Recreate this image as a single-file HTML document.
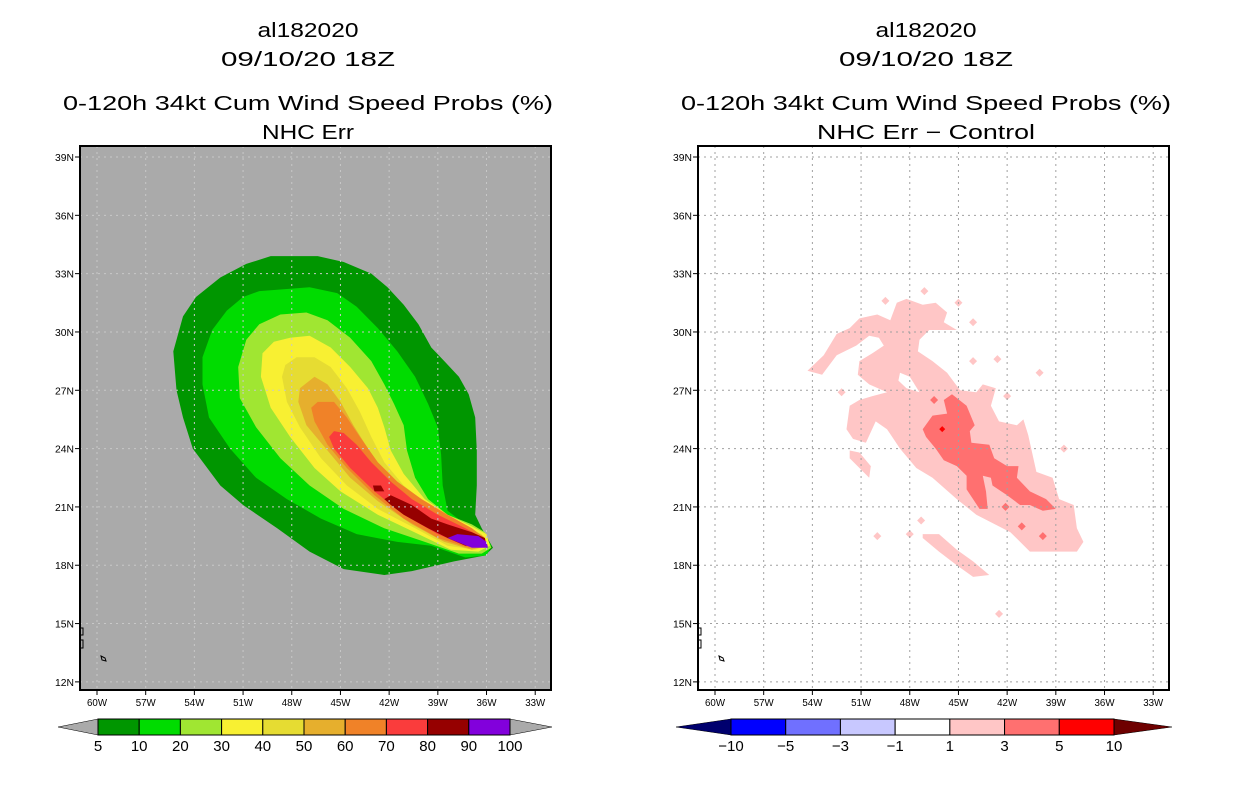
<!DOCTYPE html>
<html><head><meta charset="utf-8"><style>
html,body{margin:0;padding:0;background:#fff;}
svg{display:block;font-family:"Liberation Sans",sans-serif;}
</style></head><body>
<svg id="chart" width="1236" height="800" viewBox="0 0 1236 800" xmlns="http://www.w3.org/2000/svg">
<g id="left"></g>
<g id="right"></g>
</svg>
<script>
// ---------- data ----------
const lonTicks = [-60,-57,-54,-51,-48,-45,-42,-39,-36,-33];
const latTicks = [39,36,33,30,27,24,21,18,15,12];
const leftLevels = [5,10,20,30,40,50,60,70,80,90,100];
const leftColors = ["#009600","#00dc00","#a0e632","#f8f032","#e6dc32","#e6af2d","#f08228","#fa3c3c","#960000","#8200dc"];
const rightLevels = [-10,-5,-3,-1,1,3,5,10];
const rightColors = ["#00006e","#0000ff","#7070ff","#c8c8ff","#ffffff","#ffc6c6","#ff7070","#ff0000","#6e0000"];

const c5 = [[-49.3,33.9],[-46.4,33.9],[-44.8,33.6],[-43.1,33.0],[-42.1,32.3],[-41.1,31.4],[-40.2,30.4],[-39.4,29.2],[-38.6,28.5],[-37.7,27.7],[-37.1,26.8],[-36.7,25.6],[-36.6,23.9],[-36.6,22.1],[-36.7,20.6],[-36.3,19.9],[-35.6,18.9],[-36.1,18.5],[-38.0,18.2],[-40.6,17.7],[-42.3,17.5],[-44.8,17.8],[-46.9,18.7],[-48.9,19.9],[-51.0,21.1],[-52.4,22.1],[-54.1,24.0],[-54.7,25.6],[-55.1,27.0],[-55.3,29.0],[-54.7,30.8],[-53.9,31.8],[-52.4,32.8],[-50.8,33.5]];
const c10 = [[-50.0,32.1],[-46.9,32.3],[-45.2,32.0],[-44.0,31.3],[-42.7,30.2],[-41.5,29.0],[-40.4,27.7],[-39.6,26.3],[-39.0,25.1],[-38.8,23.7],[-38.7,22.1],[-38.4,20.8],[-37.3,20.1],[-36.2,19.7],[-35.7,19.0],[-36.0,18.5],[-37.3,18.4],[-39.4,19.0],[-41.5,19.2],[-44.0,19.6],[-46.2,20.4],[-48.3,21.4],[-50.2,22.5],[-51.8,24.0],[-53.1,25.6],[-53.5,27.3],[-53.5,28.7],[-52.9,30.1],[-52.0,31.1],[-51.0,31.8]];
const c20 = [[-48.7,30.9],[-47.1,31.0],[-45.8,30.6],[-44.4,29.7],[-43.1,28.5],[-42.3,27.3],[-41.7,26.3],[-41.1,25.2],[-40.9,23.9],[-40.4,22.5],[-39.6,21.4],[-38.4,20.6],[-36.9,20.1],[-36.1,19.7],[-35.7,18.9],[-36.3,18.6],[-37.7,18.6],[-39.8,19.2],[-42.3,19.9],[-44.8,20.9],[-46.9,22.1],[-48.7,23.5],[-50.2,25.1],[-51.2,26.6],[-51.3,28.2],[-50.8,29.6],[-50.0,30.4]];
const c30 = [[-48.1,29.7],[-46.9,29.8],[-45.6,29.2],[-44.4,28.2],[-43.3,27.1],[-42.7,26.1],[-42.3,25.1],[-41.9,23.9],[-41.1,22.7],[-39.8,21.4],[-38.4,20.6],[-36.9,20.0],[-36.0,19.6],[-35.8,19.0],[-36.5,18.7],[-38.2,18.8],[-40.2,19.6],[-42.7,20.6],[-45.0,21.8],[-46.6,23.0],[-48.1,24.6],[-49.3,26.1],[-49.9,27.7],[-49.8,28.9],[-49.1,29.5]];
const c40 = [[-47.7,28.7],[-46.6,28.7],[-45.6,28.2],[-44.6,27.1],[-43.8,25.9],[-43.1,24.6],[-42.3,23.3],[-41.1,22.1],[-39.6,21.1],[-38.0,20.2],[-36.3,19.6],[-35.9,19.0],[-36.7,18.8],[-38.4,19.0],[-40.4,19.9],[-42.7,20.9],[-44.6,22.1],[-46.2,23.5],[-47.5,25.1],[-48.3,26.4],[-48.6,27.7],[-48.4,28.3]];
const c50 = [[-46.6,27.7],[-45.8,27.3],[-45.0,26.4],[-44.2,25.2],[-43.3,24.0],[-42.3,22.8],[-40.9,21.8],[-39.2,20.8],[-37.5,20.0],[-36.2,19.5],[-36.0,19.0],[-36.9,18.8],[-38.6,19.2],[-40.6,20.1],[-42.7,21.3],[-44.4,22.5],[-45.8,23.9],[-47.1,25.2],[-47.6,26.4],[-47.5,27.1]];
const c60 = [[-46.4,26.4],[-45.4,26.4],[-44.6,25.6],[-43.8,24.6],[-42.7,23.3],[-41.5,22.3],[-40.0,21.4],[-38.4,20.6],[-36.9,19.9],[-36.1,19.4],[-36.0,19.0],[-37.1,18.9],[-39.0,19.4],[-41.1,20.4],[-42.9,21.6],[-44.6,23.0],[-45.8,24.2],[-46.6,25.4],[-46.8,26.1]];
const c70 = [[-45.4,24.9],[-44.8,24.8],[-44.0,24.2],[-43.1,23.3],[-41.9,22.3],[-40.6,21.4],[-39.0,20.6],[-37.3,19.9],[-36.2,19.4],[-36.1,19.0],[-37.3,19.0],[-39.0,19.6],[-41.1,20.6],[-42.9,21.8],[-44.4,23.0],[-45.4,24.0],[-45.7,24.6]];
const c80 = [[-42.3,21.4],[-41.9,21.6],[-40.6,21.1],[-39.4,20.4],[-38.4,20.1],[-36.9,19.7],[-36.1,19.4],[-36.0,19.0],[-37.3,19.0],[-38.4,19.4],[-39.6,19.9],[-41.1,20.6],[-41.9,21.1]];
const c80b = [[-43.0,22.1],[-42.5,22.1],[-42.3,21.8],[-42.9,21.8]];
const c90 = [[-38.4,19.4],[-37.8,19.6],[-36.5,19.5],[-36.0,19.2],[-35.9,18.9],[-36.9,18.9],[-37.5,19.1]];

const d1main = [[-54.3,28.0],[-53.3,28.8],[-52.5,29.9],[-51.7,30.2],[-51.1,30.7],[-50.0,30.9],[-49.2,30.6],[-48.8,31.5],[-48.2,31.7],[-47.2,31.4],[-46.4,31.5],[-45.7,31.0],[-45.9,30.5],[-45.1,30.1],[-46.8,30.1],[-47.4,29.6],[-47.5,29.0],[-46.6,28.5],[-45.7,27.9],[-44.9,27.0],[-43.9,26.9],[-43.5,27.3],[-42.7,27.1],[-43.0,26.2],[-42.5,25.4],[-41.4,25.2],[-41.0,25.5],[-40.7,24.7],[-40.2,22.8],[-39.2,22.5],[-38.8,21.4],[-37.9,21.1],[-37.7,19.9],[-37.3,19.2],[-37.7,18.7],[-40.6,18.7],[-41.8,19.7],[-43.9,20.6],[-45.1,21.4],[-46.6,22.5],[-47.6,23.0],[-48.6,24.0],[-49.4,25.0],[-50.1,25.4],[-50.7,24.3],[-51.5,24.5],[-51.9,25.0],[-51.7,26.2],[-51.1,26.5],[-50.3,26.7],[-49.4,26.9],[-50.5,27.3],[-51.2,27.8],[-51.1,28.5],[-50.3,28.9],[-49.6,29.3],[-49.9,29.7],[-50.5,29.8],[-51.3,29.3],[-52.5,28.8],[-53.4,27.8]];
const d1hole = [[-48.6,27.9],[-48.0,27.7],[-47.4,26.9],[-48.2,27.1],[-48.7,27.5]];
const d1band = [[-47.2,19.6],[-46.2,19.6],[-45.1,18.8],[-44.1,18.2],[-43.1,17.5],[-44.1,17.4],[-45.1,18.0],[-46.2,18.7],[-47.2,19.4]];
const d1blob = [[-51.7,23.9],[-51.1,23.8],[-50.4,23.1],[-50.5,22.5],[-51.7,23.5]];
const d1dotLon = [-44.1,-42.6,-40.0,-50.0,-38.5,-47.3,-49.5,-52.2,-47.1,-45.0,-44.1,-48.0,-42.5,-42.0];
const d1dotLat = [28.5,28.6,27.9,19.5,24.0,20.3,31.6,26.9,32.1,31.5,30.5,19.6,15.5,26.7];
const d3main = [[-47.2,25.0],[-46.6,25.7],[-45.7,25.8],[-45.9,26.5],[-45.4,26.8],[-44.5,26.2],[-44.0,25.2],[-44.3,24.9],[-44.2,24.3],[-43.1,24.2],[-42.8,23.5],[-42.0,23.1],[-41.3,23.1],[-41.4,22.5],[-40.6,21.8],[-39.6,21.4],[-39.0,20.9],[-39.8,20.8],[-40.6,21.1],[-41.2,21.1],[-42.0,21.6],[-42.9,22.1],[-43.0,22.5],[-43.5,22.6],[-43.3,21.8],[-43.2,20.9],[-43.7,20.9],[-44.5,21.9],[-44.5,22.6],[-45.1,23.1],[-45.9,23.4],[-46.4,24.0],[-47.0,24.6]];
const d3dotLon = [-46.5,-42.1,-41.1,-39.8];
const d3dotLat = [26.5,21.0,20.0,19.5];
const d5dotLon = [-46.0];
const d5dotLat = [25.0];

// ---------- helpers ----------
const NS = "http://www.w3.org/2000/svg";
function mk(tag, attrs, parent){const e=document.createElementNS(NS,tag);for(const k in attrs)e.setAttribute(k,attrs[k]);parent.appendChild(e);return e;}
function xs(ox){return lon=>ox+97+(lon+60)*16.23;}
function ys(lat){return 157+(39-lat)*19.44;}
function poly(pts,X){return pts.map(p=>X(p[0]).toFixed(1)+","+ys(p[1]).toFixed(1)).join(" ");}

function panel(g, ox, bg, titleLine2, len2){
  const X = xs(ox);
  const cx = ox+308;
  const common = {"text-anchor":"middle","font-size":20,"lengthAdjust":"spacingAndGlyphs"};
  const t1 = mk("text",Object.assign({x:cx,y:37,textLength:101},common),g); t1.textContent="al182020";
   
  const t2 = mk("text",Object.assign({x:cx,y:66,textLength:174},common),g); t2.textContent="09/10/20 18Z";
   
  const t3 = mk("text",Object.assign({x:cx,y:110,textLength:490},common),g); t3.textContent="0-120h 34kt Cum Wind Speed Probs (%)";
   
  const t4 = mk("text",Object.assign({x:cx,y:139,textLength:len2},common),g); t4.textContent=titleLine2;
   
  const bgr = mk("rect",{x:ox+80,y:146,width:471,height:544,fill:bg},g);
   
  return X;
}
function frame(g, ox, gridColor){
  const X = xs(ox);
  lonTicks.forEach(l=>{
    const ln=mk("line",{x1:X(l),x2:X(l),y1:146,y2:690,stroke:gridColor,"stroke-width":1,"stroke-dasharray":"2,4"},g);
     
    mk("line",{x1:X(l),x2:X(l),y1:690,y2:695,stroke:"#000"},g);
    const tx=mk("text",{x:X(l),y:706,"text-anchor":"middle","font-size":10,textLength:20,lengthAdjust:"spacingAndGlyphs"},g);
    tx.textContent=(-l)+"W";
     
  });
  latTicks.forEach(l=>{
    const ln=mk("line",{x1:ox+80,x2:ox+551,y1:ys(l),y2:ys(l),stroke:gridColor,"stroke-width":1,"stroke-dasharray":"2,4"},g);
     
    mk("line",{x1:ox+75,x2:ox+80,y1:ys(l),y2:ys(l),stroke:"#000"},g);
    const tx=mk("text",{x:ox+74,y:ys(l)+4,"text-anchor":"end","font-size":10,textLength:19,lengthAdjust:"spacingAndGlyphs"},g);
    tx.textContent=l+"N";
     
  });
  mk("path",{d:`M${ox+80} 628 h3 v7 h-3 M${ox+80} 640 h3 v8 h-3 M${ox+101} 656 l4 2 l1 3 l-4 -1 z`,fill:"none",stroke:"#000","stroke-width":1},g);
  const fr=mk("rect",{x:ox+80,y:146,width:471,height:544,fill:"none",stroke:"#000","stroke-width":2},g);
   
}
function colorbar(g, x0, x1, tipL, tipR, colors, levels, name){
  const n = colors.length-2;
  const w = (x1-x0)/n;
  const cb = mk("g",{},g);
   
  const tl=mk("polygon",{points:`${tipL},727 ${x0},719 ${x0},735`,fill:colors[0],stroke:"#000","stroke-width":0.5},cb);
   
  const tr=mk("polygon",{points:`${tipR},727 ${x1},719 ${x1},735`,fill:colors[colors.length-1],stroke:"#000","stroke-width":0.5},cb);
   
  for(let i=0;i<n;i++){
    const r=mk("rect",{x:x0+i*w,y:719,width:w,height:16,fill:colors[i+1],stroke:"#000","stroke-width":1},cb);
     
  }
  levels.forEach((lv,i)=>{
    const t=mk("text",{x:x0+i*w,y:751,"text-anchor":"middle","font-size":15,"font-weight":"normal",style:"font-stretch:condensed"},cb);
    t.textContent=(lv<0?"\u2212"+(-lv):lv);
     
  });
}
function dot(g,X,lon,lat,col,r){
  const x=X(lon),y=ys(lat);
  return mk("polygon",{points:`${x},${y-r} ${x+r},${y} ${x},${y+r} ${x-r},${y}`,fill:col},g);
}

// ---------- left ----------
const L = document.getElementById("left");
const XL = panel(L,0,"#aaaaaa","NHC Err",92);
[c5,c10,c20,c30,c40,c50,c60,c70,c80,c80b,c90].forEach((c,i)=>{
  const idx=[0,1,2,3,4,5,6,7,8,8,9][i];
  const p=mk("polygon",{points:poly(c,XL),fill:leftColors[idx]},L);
   
});
frame(L,0,"#c8c8c8");
colorbar(L,98,510,58,552,["#aaaaaa"].concat(leftColors).concat(["#aaaaaa"]),leftLevels,"left-colorbar");

// ---------- right ----------
const R = document.getElementById("right");
const XR = panel(R,618,"#ffffff","NHC Err \u2212 Control",218);
const pm=mk("polygon",{points:poly(d1main,XR),fill:rightColors[5]},R);
 
const ph=mk("polygon",{points:poly(d1hole,XR),fill:"#fff"},R);
 
[d1band,d1blob].forEach(c=>{
  const p=mk("polygon",{points:poly(c,XR),fill:rightColors[5]},R);
   
});
d1dotLon.forEach((lon,i)=>{
  const d=dot(R,XR,lon,d1dotLat[i],rightColors[5],4);
   
});
const p3=mk("polygon",{points:poly(d3main,XR),fill:rightColors[6]},R);
 
d3dotLon.forEach((lon,i)=>{
  const d=dot(R,XR,lon,d3dotLat[i],rightColors[6],4);
   
});
d5dotLon.forEach((lon,i)=>{
  const d=dot(R,XR,lon,d5dotLat[i],rightColors[7],3);
   
});
frame(R,618,"#a0a0a0");
colorbar(R,731,1114,676,1172,rightColors,rightLevels,"right-colorbar");
</script>
</body></html>
